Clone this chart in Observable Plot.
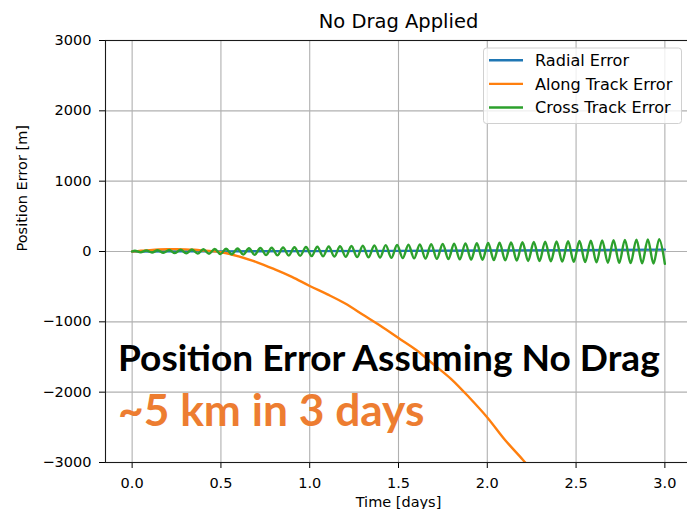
<!DOCTYPE html>
<html>
<head>
<meta charset="utf-8">
<script src="https://cdn.jsdelivr.net/npm/d3@7"></script>
<script src="https://cdn.jsdelivr.net/npm/@observablehq/plot@0.6"></script>
<style>
  html, body { margin: 0; padding: 0; background: #fff; overflow: hidden; }
  #chart { width: 687px; height: 509px; }
</style>
</head>
<body>
<div id="chart"></div>
<script>
// ---------- data ----------
const title = "No Drag Applied";
const xLabel = "Time [days]";
const yLabel = "Position Error [m]";
const seriesNames = ["Radial Error", "Along Track Error", "Cross Track Error"];
const seriesColors = ["#1f77b4", "#ff7f0e", "#2ca02c"];
const xTicks = [0, 0.5, 1.0, 1.5, 2.0, 2.5, 3.0];
const yTicks = [-3000, -2000, -1000, 0, 1000, 2000, 3000];
const noteLine1 = "Position Error Assuming No Drag";
const noteLine2 = "~5 km in 3 days";

// Radial error (days, metres)
const radialT = [0, 0.5, 1.0, 1.5, 2.0, 2.5, 3.0];
const radialV = [0, 2, 5, 9, 14, 20, 27];

// Along-track error (days, metres)
const alongT = [0, 0.05, 0.1, 0.15, 0.2, 0.25, 0.3, 0.35, 0.4, 0.45, 0.5, 0.55, 0.6, 0.7, 0.8, 0.9, 1.0, 1.1, 1.2, 1.3, 1.4, 1.5, 1.6, 1.7, 1.8, 1.9, 2.0, 2.1, 2.2, 2.25];
const alongV = [0, 10, 20, 28, 32, 33, 30, 24, 15, 5, -10, -35, -70, -150, -250, -360, -490, -610, -740, -900, -1060, -1230, -1400, -1610, -1820, -2080, -2360, -2680, -2960, -3110];

// Cross-track error: successive peaks and troughs of the oscillation (days, metres)
const crossPeakT = [0.016, 0.080, 0.144, 0.209, 0.273, 0.337, 0.401, 0.465, 0.529, 0.594, 0.658, 0.722, 0.786, 0.850, 0.914, 0.979, 1.043, 1.107, 1.171, 1.235, 1.299, 1.364, 1.428, 1.492, 1.556, 1.620, 1.684, 1.749, 1.813, 1.877, 1.941, 2.005, 2.069, 2.134, 2.198, 2.262, 2.326, 2.390, 2.455, 2.519, 2.583, 2.647, 2.711, 2.775, 2.840, 2.904, 2.968];
const crossPeakV = [11, 14, 18, 22, 25, 29, 32, 36, 40, 43, 47, 50, 54, 57, 61, 65, 68, 72, 75, 79, 82, 86, 90, 93, 97, 100, 104, 107, 111, 115, 118, 122, 125, 129, 133, 136, 140, 143, 147, 150, 154, 158, 161, 165, 168, 172, 175];
const crossTroughT = [0.048, 0.112, 0.176, 0.241, 0.305, 0.369, 0.433, 0.497, 0.561, 0.626, 0.690, 0.754, 0.818, 0.882, 0.946, 1.011, 1.075, 1.139, 1.203, 1.267, 1.331, 1.396, 1.460, 1.524, 1.588, 1.652, 1.716, 1.781, 1.845, 1.909, 1.973, 2.037, 2.101, 2.166, 2.230, 2.294, 2.358, 2.422, 2.487, 2.551, 2.615, 2.679, 2.743, 2.807, 2.872, 2.936, 3.000];
const crossTroughV = [-12, -15, -19, -23, -26, -30, -33, -37, -41, -44, -48, -51, -55, -58, -62, -66, -69, -73, -76, -80, -83, -87, -91, -94, -98, -101, -105, -108, -112, -116, -119, -123, -126, -130, -134, -137, -141, -144, -148, -151, -155, -159, -162, -166, -169, -173, -176];

// ---------- build table ----------
const rows = [];
radialT.forEach((t, i) => rows.push({t, v: radialV[i], series: seriesNames[0]}));
alongT.forEach((t, i) => rows.push({t, v: alongV[i], series: seriesNames[1]}));
rows.push({t: 0, v: 0, series: seriesNames[2]});
crossPeakT.forEach((t, i) => {
  rows.push({t, v: crossPeakV[i], series: seriesNames[2]});
  rows.push({t: crossTroughT[i], v: crossTroughV[i], series: seriesNames[2]});
});

const mplFont = "'DejaVu Sans', sans-serif";

const chart = Plot.plot({
  width: 687,
  height: 509,
  marginLeft: 105,
  marginTop: 40,
  marginBottom: 47,
  marginRight: -4,
  style: {fontFamily: mplFont, fontSize: "14.5px", color: "#000", background: "#fff"},
  x: {domain: [-0.15, 3.15], label: null},
  y: {domain: [-3000, 3000], label: null},
  color: {domain: seriesNames, range: seriesColors},
  marks: [
    Plot.gridX(xTicks, {stroke: "#b0b0b0", strokeOpacity: 1, strokeWidth: 1.1}),
    Plot.gridY(yTicks, {stroke: "#b0b0b0", strokeOpacity: 1, strokeWidth: 1.1}),
    Plot.line(rows, {x: "t", y: "v", z: "series", stroke: "series", strokeWidth: 2.4, curve: "catmull-rom", clip: true}),
    Plot.axisX(xTicks, {tickSize: 6, tickPadding: 9, tickFormat: d3.format(".1f"), label: null, fontSize: 14.5}),
    Plot.axisY(yTicks, {tickSize: 6, tickPadding: 8, tickFormat: d3.format("d"), label: null, fontSize: 14.5}),
    Plot.frame({stroke: "#1a1a1a", strokeWidth: 1.1}),
    Plot.text([title], {frameAnchor: "top", lineAnchor: "middle", dy: -19, fontSize: 19.5, fill: "#000"}),
    Plot.text([xLabel], {frameAnchor: "bottom", lineAnchor: "middle", dy: 40, fontSize: 14.5, fill: "#000"}),
    Plot.text([yLabel], {frameAnchor: "left", lineAnchor: "middle", dx: -83, rotate: -90, fontSize: 14.5, fill: "#000"})
  ]
});

document.getElementById("chart").appendChild(chart);

// ---------- legend (matplotlib-style box) ----------
const svg = d3.select(chart);
const lg = svg.append("g").attr("font-family", mplFont).attr("font-size", 16.1).attr("text-anchor", "start");
lg.append("rect")
  .attr("x", 483.5).attr("y", 48).attr("width", 198).attr("height", 75.5)
  .attr("rx", 3).attr("fill", "#fff").attr("fill-opacity", 0.8)
  .attr("stroke", "#d0d0d0").attr("stroke-width", 1);
seriesNames.forEach((name, i) => {
  const yy = 60.3 + i * 23.6;
  lg.append("line").attr("x1", 489).attr("x2", 523).attr("y1", yy).attr("y2", yy)
    .attr("stroke", seriesColors[i]).attr("stroke-width", 2.4);
  lg.append("text").attr("x", 535).attr("y", yy + 5.7).attr("fill", "#000").text(name);
});

// ---------- overlaid annotation ----------
const ann = svg.append("g").attr("font-family", "Lato, 'Open Sans', sans-serif").attr("font-weight", 700).attr("text-anchor", "start");
ann.append("text").attr("x", 118).attr("y", 371).attr("font-size", 37.1).attr("fill", "#000").text(noteLine1);
ann.append("text").attr("x", 118).attr("y", 426).attr("font-size", 44.3).attr("fill", "#ED7D31").text(noteLine2);
</script>
</body>
</html>
